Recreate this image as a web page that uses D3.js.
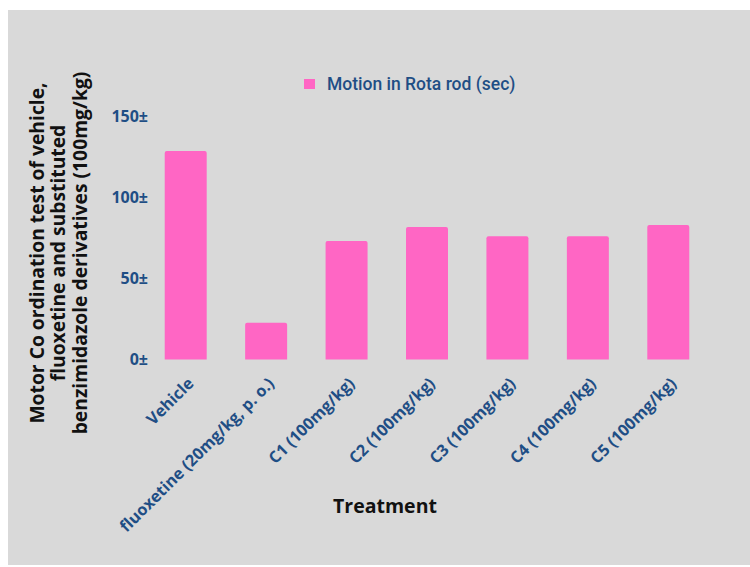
<!DOCTYPE html>
<html>
<head>
<meta charset="utf-8">
<script src="https://cdn.jsdelivr.net/npm/d3@7"></script>
<style>
  html, body { margin: 0; padding: 0; background: #ffffff; }
  svg { display: block; }
</style>
</head>
<body>
<svg id="chart" width="750" height="567"></svg>
<script>
// Rota rod motion time (sec) for each treatment group
const categories = [
  "Vehicle",
  "fluoxetine (20mg/kg, p. o.)",
  "C1 (100mg/kg)",
  "C2 (100mg/kg)",
  "C3 (100mg/kg)",
  "C4 (100mg/kg)",
  "C5 (100mg/kg)"
];
const motionValues = [128.5, 22.7, 73.0, 81.6, 75.9, 75.9, 82.9];
const yTicks = [0, 50, 100, 150];
const yTickLabels = ["0±", "50±", "100±", "150±"];
const seriesName = "Motion in Rota rod (sec)";
const xTitle = "Treatment";
const yTitleLines = [
  "Motor Co ordination test of vehicle,",
  "fluoxetine and substituted",
  "benzimidazole derivatives (100mg/kg)"
];

const blue = "#1f4e85";
const pink = "#ff66c4";
const svg = d3.select("#chart");

// panel background
svg.append("rect")
  .attr("x", 8).attr("y", 10)
  .attr("width", 742).attr("height", 555)
  .attr("fill", "#d9d9d9");

const x = d3.scaleBand()
  .domain(categories)
  .range([145.5, 708.5])
  .paddingInner(0.478)
  .paddingOuter(0.239);

const y = d3.scaleLinear()
  .domain([0, 150])
  .range([359.5, 116]);

// bars with slightly rounded top corners
const r = 2;
svg.append("g").selectAll("path")
  .data(categories)
  .join("path")
  .attr("fill", pink)
  .attr("d", (c, i) => {
    const x0 = x(c), w = x.bandwidth();
    const y0 = y(motionValues[i]), yb = y(0);
    return `M${x0},${yb} V${y0 + r} Q${x0},${y0} ${x0 + r},${y0} H${x0 + w - r} Q${x0 + w},${y0} ${x0 + w},${y0 + r} V${yb} Z`;
  });

// y axis labels
const yAxis = d3.axisLeft(y)
  .tickValues(yTicks)
  .tickFormat((d, i) => yTickLabels[i])
  .tickSize(0)
  .tickPadding(0);
const gy = svg.append("g")
  .attr("transform", "translate(148,0)")
  .call(yAxis);
gy.select(".domain").remove();
gy.selectAll("text")
  .attr("fill", blue)
  .attr("font-family", "'Open Sans', sans-serif")
  .attr("font-weight", "bold")
  .attr("font-size", "16px");

// x axis labels, rotated
const xAxis = d3.axisBottom(x).tickSize(0).tickPadding(0);
const gx = svg.append("g")
  .attr("transform", `translate(0,${y(0)})`)
  .call(xAxis);
gx.select(".domain").remove();
gx.selectAll("text")
  .attr("fill", blue)
  .attr("font-family", "'Open Sans', sans-serif")
  .attr("font-weight", "bold")
  .attr("font-size", "16.2px")
  .attr("text-anchor", "end")
  .attr("y", 0)
  .attr("dy", "0.35em")
  .attr("transform", "translate(5,21) rotate(-45)");

// x title
svg.append("text")
  .attr("x", 385).attr("y", 508)
  .attr("text-anchor", "middle")
  .attr("dominant-baseline", "middle")
  .attr("font-family", "'Open Sans', sans-serif")
  .attr("font-weight", "bold")
  .attr("font-size", "19.5px")
  .attr("fill", "#111")
  .text(xTitle);

// y title, three lines rotated
const yt = svg.append("text")
  .attr("transform", "translate(37,253) rotate(-90)")
  .attr("text-anchor", "middle")
  .attr("font-family", "'Open Sans', sans-serif")
  .attr("font-weight", "bold")
  .attr("font-size", "19.3px")
  .attr("fill", "#111");
yt.selectAll("tspan")
  .data(yTitleLines)
  .join("tspan")
  .attr("x", 0)
  .attr("y", (d, i) => i * 21.5)
  .attr("dy", "0.35em")
  .text(d => d);

// legend
const lg = svg.append("g");
lg.append("rect")
  .attr("x", 304).attr("y", 79)
  .attr("width", 11).attr("height", 10)
  .attr("fill", pink);
lg.append("text")
  .attr("x", 327).attr("y", 85)
  .attr("dominant-baseline", "middle")
  .attr("font-family", "Roboto, sans-serif")
  .attr("font-weight", "500")
  .attr("font-size", "17.5px")
  .attr("fill", blue)
  .text(seriesName);
</script>
</body>
</html>
